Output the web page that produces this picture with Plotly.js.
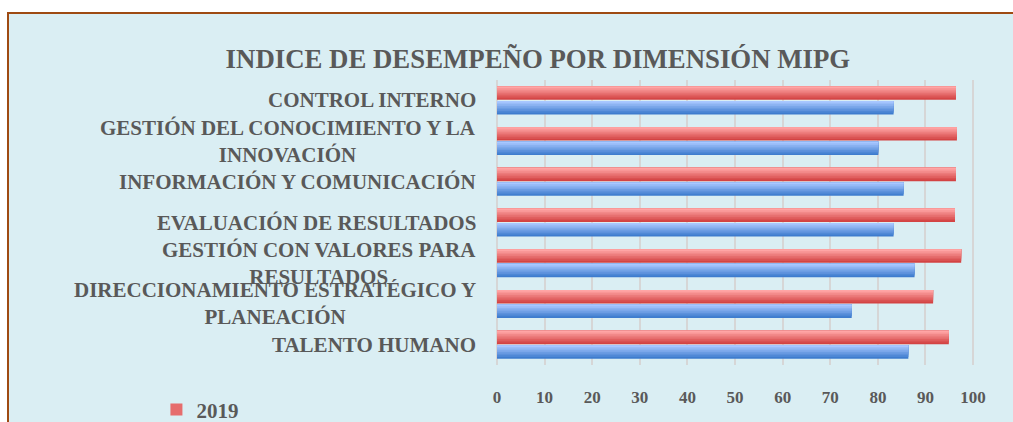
<!DOCTYPE html>
<html>
<head>
<meta charset="utf-8">
<script src="https://cdn.plot.ly/plotly-3.0.1.min.js"></script>
<style>
  html, body { margin: 0; padding: 0; background: #ffffff; width: 1013px; height: 422px; overflow: hidden; }
  #frame { position: absolute; left: 7px; top: 12px; width: 1100px; height: 500px;
           background: #DAEEF3; border-left: 2px solid #9E4A12; border-top: 2px solid #9E4A12; }
  #chart { position: absolute; left: 0; top: 0; width: 1013px; height: 422px; }
</style>
</head>
<body>
<div id="frame"></div>
<div id="chart"></div>
<script>
// ---- data (bottom to top on the chart) ----
const categories = [
  'TALENTO HUMANO',
  'DIRECCIONAMIENTO ESTRATÉGICO Y<br>PLANEACIÓN',
  'GESTIÓN CON VALORES PARA<br>RESULTADOS',
  'EVALUACIÓN DE RESULTADOS',
  'INFORMACIÓN Y COMUNICACIÓN',
  'GESTIÓN DEL CONOCIMIENTO Y LA<br>INNOVACIÓN',
  'CONTROL INTERNO'
];
const values2019 = [94.9, 91.6, 97.5, 96.2, 96.4, 96.6, 96.4];
const values2018 = [86.4, 74.5, 87.7, 83.3, 85.4, 80.1, 83.3];
const seriesNames = ['2019', '2018'];
const xTicks = [0, 10, 20, 30, 40, 50, 60, 70, 80, 90, 100];

// ---- styling ----
const textColor = '#595959';
const fontFam = '"Liberation Serif", "Times New Roman", serif';
const redDark = [211, 67, 67], redLight = [255, 165, 165];
const blueDark = [62, 124, 206], blueLight = [168, 199, 255];
const nBands = 8;

function mix(a, b, t) {
  return 'rgb(' + a.map((v, i) => Math.round(v + (b[i] - v) * t)).join(',') + ')';
}

// each band runs from its own start up to the top of the bar, drawn in order,
// so the lighter (upper) bands cover the darker ones: a vertical gradient without seams
function bandTraces(values, name, dark, light, baseOffset, width, inLegend) {
  const out = [];
  const bw = width / nBands;
  for (let k = 0; k < nBands; k++) {
    out.push({
      type: 'bar',
      orientation: 'h',
      x: values,
      y: categories,
      name: name,
      legendgroup: name,
      showlegend: inLegend && k === 3,
      offset: baseOffset + k * bw,
      width: width - k * bw,
      marker: { color: mix(dark, light, k / (nBands - 1)), line: { width: 0 } },
      hoverinfo: 'skip'
    });
  }
  return out;
}

const traces = [
  ...bandTraces(values2019, seriesNames[0], redDark, redLight, 0.012, 0.33, true),
  ...bandTraces(values2018, seriesNames[1], blueDark, blueLight, -0.345, 0.33, false)
];

// category labels: centred multi-line text, placed on the category axis
const labelAnnotations = categories.map(c => ({
  text: c,
  xref: 'paper', x: 0, xanchor: 'right', xshift: -19,
  yref: 'y', y: c, yanchor: 'middle',
  align: 'center',
  showarrow: false,
  font: { family: fontFam, size: 21, color: textColor, weight: 700 }
}));

const layout = {
  width: 1013,
  height: 422,
  paper_bgcolor: 'rgba(0,0,0,0)',
  plot_bgcolor: 'rgba(0,0,0,0)',
  margin: { l: 497, r: 38, t: 80, b: 57, pad: 0, autoexpand: false },
  barmode: 'overlay',
  title: {
    text: 'INDICE DE DESEMPEÑO POR DIMENSIÓN MIPG',
    font: { family: fontFam, size: 26.8, color: textColor, weight: 700 },
    xref: 'container', x: 0.531, xanchor: 'center',
    yref: 'container', y: 0.861, yanchor: 'middle'
  },
  xaxis: {
    range: [0, 100.4],
    tickvals: xTicks,
    ticktext: xTicks.map(String),
    showgrid: true,
    gridcolor: '#D6D6D6',
    gridwidth: 2,
    zeroline: true,
    zerolinecolor: '#D6D6D6',
    zerolinewidth: 2,
    showline: false,
    ticks: 'outside',
    ticklen: 17,
    tickcolor: 'rgba(0,0,0,0)',
    tickfont: { family: fontFam, size: 17, color: textColor, weight: 700 },
    fixedrange: true
  },
  yaxis: {
    type: 'category',
    categoryorder: 'array',
    categoryarray: categories,
    showgrid: false,
    zeroline: false,
    showline: false,
    showticklabels: false,
    fixedrange: true
  },
  annotations: labelAnnotations,
  showlegend: true,
  legend: {
    orientation: 'v',
    traceorder: 'normal',
    x: -0.7125, xanchor: 'left',
    y: -0.085, yanchor: 'top',
    bgcolor: 'rgba(0,0,0,0)',
    font: { family: fontFam, size: 21, color: textColor, weight: 700 }
  }
};

Plotly.newPlot('chart', traces, layout, { staticPlot: true, displayModeBar: false });
</script>
</body>
</html>
